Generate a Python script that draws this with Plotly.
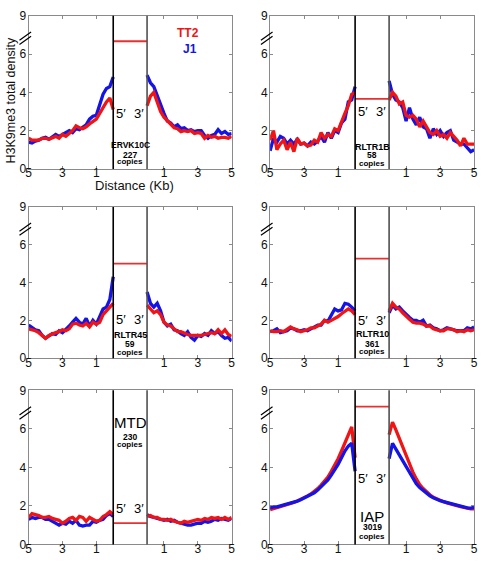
import plotly.graph_objects as go

# ---------------- data ----------------
left_dist = [5.0, 4.8, 4.6, 4.4, 4.2, 4.0, 3.8, 3.6, 3.4, 3.2, 3.0, 2.8, 2.6,
             2.4, 2.2, 2.0, 1.8, 1.6, 1.4, 1.2, 1.0, 0.8, 0.6, 0.4, 0.2, 0.0]
right_dist = [0.0, 0.2, 0.4, 0.6, 0.8, 1.0, 1.2, 1.4, 1.6, 1.8, 2.0, 2.2, 2.4,
              2.6, 2.8, 3.0, 3.2, 3.4, 3.6, 3.8, 4.0, 4.2, 4.4, 4.6, 4.8, 5.0]

x_tick_vals = [0, 2, 4, 8, 10, 12]
x_tick_text = ['5', '3', '1', '1', '3', '5']
y_tick_vals = [0, 2, 4, 6, 8]
y_tick_text = ['0', '2', '4', '6', '9']

elements = ['ERVK10C', 'RLTR1B', 'RLTR45', 'RLTR10', 'MTD', 'IAP']
copies = ['227', '58', '59', '361', '230', '3019']
body_density_tt2 = [6.67, 3.66, 5.0, 5.27, 1.11, 7.15]

ervk_j1_5p = [1.40, 1.35, 1.45, 1.50, 1.60, 1.65, 1.55, 1.70, 1.80, 1.70, 1.80, 1.90, 2.00,
              1.90, 2.10, 2.05, 2.20, 2.30, 2.60, 2.75, 2.80, 3.30, 3.90, 4.20, 4.30, 4.80]
ervk_tt2_5p = [1.60, 1.50, 1.50, 1.50, 1.60, 1.60, 1.55, 1.65, 1.70, 1.60, 1.80, 1.70, 1.85,
               2.00, 2.25, 2.15, 2.10, 2.20, 2.35, 2.50, 2.60, 2.90, 3.20, 3.50, 3.70, 3.10]
ervk_j1_3p = [4.90, 4.50, 4.30, 3.80, 3.30, 2.90, 2.50, 2.40, 2.20, 2.30, 2.10, 2.15, 2.00,
              2.05, 1.95, 2.00, 2.00, 1.75, 1.60, 1.75, 1.80, 2.05, 1.85, 1.95, 1.80, 1.85]
ervk_tt2_3p = [3.30, 3.80, 4.00, 3.50, 3.00, 2.70, 2.50, 2.30, 2.15, 2.10, 1.95, 2.00, 1.95,
               2.00, 1.85, 1.90, 1.85, 1.60, 1.75, 1.65, 1.70, 1.60, 1.65, 1.65, 1.60, 1.70]

rltr1b_j1_5p = [0.95, 1.60, 1.40, 1.70, 1.60, 1.30, 1.50, 1.30, 1.55, 1.30, 1.35, 1.20, 1.40,
                1.30, 1.45, 1.70, 1.40, 1.90, 1.60, 2.00, 1.90, 2.40, 2.60, 3.50, 3.60, 4.30]
rltr1b_tt2_5p = [1.50, 2.00, 1.00, 1.30, 1.50, 1.00, 1.40, 0.90, 1.60, 1.30, 1.35, 1.20, 1.25,
                 1.50, 1.40, 1.90, 1.60, 1.80, 1.70, 2.10, 2.00, 2.50, 2.90, 3.30, 3.90, 4.00]
rltr1b_j1_3p = [4.60, 3.90, 3.60, 3.50, 3.20, 2.50, 3.20, 2.60, 2.30, 2.70, 2.20, 2.10, 1.60,
                2.10, 1.80, 2.00, 1.70, 1.90, 2.00, 1.50, 1.40, 1.30, 1.30, 1.10, 0.90, 1.00]
rltr1b_tt2_3p = [3.60, 4.00, 3.80, 3.40, 3.50, 2.80, 2.70, 2.80, 2.60, 2.20, 2.50, 2.20, 1.90,
                 1.80, 2.00, 1.70, 1.80, 1.60, 1.90, 1.70, 1.50, 1.20, 1.60, 1.30, 1.30, 1.30]

rltr45_j1_5p = [1.75, 1.60, 1.50, 1.45, 1.20, 1.05, 1.15, 1.30, 1.25, 1.45, 1.35, 1.50, 1.70,
                1.90, 2.10, 1.90, 1.80, 2.10, 1.70, 2.00, 1.80, 2.20, 2.60, 2.70, 3.10, 4.30]
rltr45_tt2_5p = [1.55, 1.50, 1.45, 1.35, 1.20, 1.05, 1.20, 1.30, 1.35, 1.40, 1.50, 1.45, 1.55,
                 1.80, 1.85, 1.75, 1.70, 1.85, 1.65, 1.90, 1.80, 1.90, 2.30, 2.50, 2.70, 2.90]
rltr45_j1_3p = [3.50, 2.90, 2.70, 2.90, 2.50, 1.90, 1.70, 1.80, 1.50, 1.45, 1.30, 1.20, 1.40,
                1.10, 0.95, 1.20, 1.15, 1.30, 1.20, 1.45, 1.30, 1.40, 1.20, 1.05, 1.10, 0.90]
rltr45_tt2_3p = [2.80, 2.60, 2.40, 2.50, 2.30, 1.90, 1.75, 1.70, 1.55, 1.40, 1.40, 1.30, 1.25,
                 1.20, 1.20, 1.20, 1.20, 1.25, 1.30, 1.35, 1.30, 1.50, 1.30, 1.50, 1.25, 1.15]

rltr10_j1_5p = [1.40, 1.45, 1.55, 1.35, 1.40, 1.45, 1.60, 1.55, 1.45, 1.45, 1.50, 1.45, 1.55,
                1.65, 1.75, 1.75, 2.00, 1.95, 2.30, 2.60, 2.50, 2.55, 2.90, 2.85, 2.70, 2.50]
rltr10_tt2_5p = [1.45, 1.40, 1.40, 1.45, 1.40, 1.50, 1.65, 1.55, 1.50, 1.40, 1.45, 1.50, 1.60,
                 1.60, 1.70, 1.80, 2.00, 1.90, 2.00, 2.10, 2.20, 2.35, 2.50, 2.60, 2.50, 2.30]
rltr10_j1_3p = [2.40, 2.80, 2.60, 2.70, 2.50, 2.30, 2.15, 2.00, 2.00, 1.90, 2.00, 1.70, 1.75,
                1.60, 1.55, 1.45, 1.50, 1.60, 1.55, 1.50, 1.45, 1.45, 1.45, 1.60, 1.55, 1.65]
rltr10_tt2_3p = [2.50, 2.90, 2.70, 2.60, 2.40, 2.20, 2.05, 1.90, 1.85, 1.85, 1.80, 1.70, 1.70,
                 1.55, 1.50, 1.45, 1.45, 1.55, 1.55, 1.50, 1.40, 1.45, 1.40, 1.50, 1.45, 1.50]

mtd_j1_5p = [1.30, 1.40, 1.35, 1.40, 1.40, 1.30, 1.30, 1.20, 1.10, 1.00, 1.10, 1.05, 1.20,
             1.10, 1.25, 1.00, 0.95, 1.00, 1.00, 1.20, 1.15, 1.25, 1.30, 1.50, 1.60, 1.45]
mtd_tt2_5p = [1.40, 1.60, 1.55, 1.50, 1.40, 1.40, 1.45, 1.35, 1.30, 1.25, 1.10, 1.20, 1.35,
              1.40, 1.25, 1.45, 1.40, 1.20, 1.40, 1.30, 1.20, 1.25, 1.45, 1.55, 1.70, 1.55]
mtd_j1_3p = [1.55, 1.45, 1.40, 1.35, 1.30, 1.25, 1.30, 1.20, 1.25, 1.15, 1.10, 1.05, 1.00,
             1.00, 1.05, 1.10, 1.10, 1.20, 1.15, 1.20, 1.30, 1.25, 1.35, 1.30, 1.25, 1.35]
mtd_tt2_3p = [1.45, 1.50, 1.40, 1.40, 1.30, 1.30, 1.25, 1.30, 1.20, 1.15, 1.10, 1.20, 1.15,
              1.20, 1.25, 1.30, 1.25, 1.35, 1.30, 1.40, 1.35, 1.40, 1.30, 1.40, 1.30, 1.40]

iap_j1_5p = [1.90, 1.95, 1.95, 2.00, 2.05, 2.10, 2.12, 2.18, 2.25, 2.32, 2.40, 2.48, 2.56,
             2.68, 2.82, 2.98, 3.15, 3.35, 3.60, 3.85, 4.15, 4.50, 4.85, 5.10, 5.25, 3.80]
iap_tt2_5p = [1.80, 1.85, 1.90, 1.95, 2.00, 2.08, 2.12, 2.18, 2.25, 2.33, 2.42, 2.52, 2.62,
              2.75, 2.90, 3.08, 3.28, 3.50, 3.80, 4.10, 4.45, 4.85, 5.30, 5.75, 6.10, 4.50]
iap_j1_3p = [4.45, 5.25, 4.95, 4.65, 4.35, 4.00, 3.70, 3.40, 3.15, 2.95, 2.80, 2.65, 2.52,
             2.42, 2.33, 2.27, 2.22, 2.17, 2.12, 2.08, 2.04, 2.00, 1.95, 1.90, 1.88, 1.92]
iap_tt2_3p = [5.70, 6.35, 5.95, 5.50, 5.05, 4.60, 4.15, 3.75, 3.40, 3.10, 2.90, 2.72, 2.58,
              2.45, 2.36, 2.28, 2.22, 2.16, 2.10, 2.05, 2.00, 1.96, 1.92, 1.88, 1.85, 1.85]

panel_series = [
    (ervk_j1_5p, ervk_tt2_5p, ervk_j1_3p, ervk_tt2_3p),
    (rltr1b_j1_5p, rltr1b_tt2_5p, rltr1b_j1_3p, rltr1b_tt2_3p),
    (rltr45_j1_5p, rltr45_tt2_5p, rltr45_j1_3p, rltr45_tt2_3p),
    (rltr10_j1_5p, rltr10_tt2_5p, rltr10_j1_3p, rltr10_tt2_3p),
    (mtd_j1_5p, mtd_tt2_5p, mtd_j1_3p, mtd_tt2_3p),
    (iap_j1_5p, iap_tt2_5p, iap_j1_3p, iap_tt2_3p),
]

# ---------------- layout / styling ----------------
W, H = 486, 568
LEFT_ZERO, RIGHT_ZERO = 5, 7          # element body spans between these axis units
RED = '#f01414'
BLUE = '#1414e6'
FONT = 'Liberation Sans, Arial, sans-serif'

col_dom = [(26 / W, 232 / W), (271 / W, 478 / W)]
row_dom = [(1 - 166 / H, 1 - 9 / H), (1 - 360 / H, 1 - 205 / H), (1 - 551 / H, 1 - 393 / H)]

prime_y = [2.9, 3.0, 2.06, 2.0, 1.85, 3.43]
name_y = [1.27, 1.17, 1.25, 1.28, 6.33, 1.47]
count_y = [0.73, 0.71, 0.77, 0.77, 5.56, 0.89]
copies_y = [0.39, 0.29, 0.31, 0.34, 5.21, 0.43]
name_size = [8.5, 9, 9, 9, 15, 15]
name_bold = [True, True, True, True, False, False]
blue_on_top = [False, False, False, False, False, True]

fig = go.Figure()
layout = dict(width=W, height=H, margin=dict(l=0, r=0, t=0, b=0),
              paper_bgcolor='white', plot_bgcolor='white', showlegend=False)
shapes, annotations = [], []

for i in range(6):
    n = i + 1
    sfx = '' if n == 1 else str(n)
    xa, ya = f'x{sfx}', f'y{sfx}'
    r, c = divmod(i, 2)
    j1_5, tt2_5, j1_3, tt2_3 = panel_series[i]
    xl = [LEFT_ZERO - d for d in left_dist]
    xr = [RIGHT_ZERO + d for d in right_dist]
    blue_tr = [(xl, j1_5), (xr, j1_3)]
    red_tr = [(xl, tt2_5), (xr, tt2_3)]
    order = [(red_tr, RED), (blue_tr, BLUE)] if blue_on_top[i] else [(blue_tr, BLUE), (red_tr, RED)]
    for trs, col in order:
        for xs, ys in trs:
            fig.add_trace(go.Scatter(x=xs, y=ys, mode='lines', xaxis=xa, yaxis=ya,
                                     line=dict(color=col, width=3.3), hoverinfo='skip'))
    fig.add_trace(go.Scatter(x=[LEFT_ZERO, RIGHT_ZERO], y=[body_density_tt2[i]] * 2, mode='lines',
                             xaxis=xa, yaxis=ya, line=dict(color='#e83030', width=1.8),
                             hoverinfo='skip'))

    axcommon = dict(showline=True, linecolor='#8a8a8a', linewidth=1, mirror='ticks',
                    ticks='inside', ticklen=3, tickcolor='#8a8a8a', showgrid=False,
                    zeroline=False, tickfont=dict(family=FONT, size=12, color='#111'),
                    ticklabeloverflow='allow')
    layout[f'xaxis{sfx}'] = dict(domain=list(col_dom[c]), anchor=ya, range=[0, 12],
                                 tickvals=x_tick_vals, ticktext=x_tick_text,
                                 ticklabelstandoff=-7, **axcommon)
    layout[f'yaxis{sfx}'] = dict(domain=list(row_dom[r]), anchor=xa, range=[0, 8],
                                 tickvals=y_tick_vals, ticktext=y_tick_text,
                                 ticklabelstandoff=-1, **axcommon)

    for xv, colr in [(LEFT_ZERO, '#000000'), (RIGHT_ZERO, '#505050')]:
        shapes.append(dict(type='line', xref=xa, yref=f'{ya} domain', x0=xv, x1=xv, y0=0, y1=1,
                           line=dict(color=colr, width=1.6)))
    for off in (0.0, -0.22):
        shapes.append(dict(type='line', xref=f'{xa} domain', yref=ya,
                           x0=-0.045, x1=0.012, y0=6.72 + off, y1=7.15 + off,
                           line=dict(color='#000', width=1.2)))

    annotations.append(dict(x=LEFT_ZERO + 0.45, y=prime_y[i], xref=xa, yref=ya, text='5′',
                            showarrow=False, font=dict(family=FONT, size=13, color='#000')))
    annotations.append(dict(x=LEFT_ZERO + 1.5, y=prime_y[i], xref=xa, yref=ya, text='3′',
                            showarrow=False, font=dict(family=FONT, size=13, color='#000')))
    nm = f'<b>{elements[i]}</b>' if name_bold[i] else elements[i]
    annotations.append(dict(x=6, y=name_y[i], xref=xa, yref=ya, text=nm, showarrow=False,
                            font=dict(family=FONT, size=name_size[i], color='#000')))
    annotations.append(dict(x=6, y=count_y[i], xref=xa, yref=ya, text=f'<b>{copies[i]}</b>',
                            showarrow=False, font=dict(family=FONT, size=8.5, color='#000')))
    annotations.append(dict(x=6, y=copies_y[i], xref=xa, yref=ya, text='<b>copies</b>',
                            showarrow=False, font=dict(family=FONT, size=8, color='#000')))

paper_txt = dict(xref='paper', yref='paper', showarrow=False, xanchor='center', yanchor='middle')
annotations.append(dict(x=188 / W, y=1 - 27 / H, text='<b>TT2</b>',
                        font=dict(family=FONT, size=12, color=RED), **paper_txt))
annotations.append(dict(x=190 / W, y=1 - 43 / H, text='<b>J1</b>',
                        font=dict(family=FONT, size=12, color=BLUE), **paper_txt))
annotations.append(dict(x=8 / W, y=1 - 95 / H, text='H3K9me3 total density', textangle=-90,
                        font=dict(family=FONT, size=12.5, color='#111'), **paper_txt))
annotations.append(dict(x=133 / W, y=1 - 183 / H, text='Distance (Kb)',
                        font=dict(family=FONT, size=13, color='#111'), **paper_txt))

layout['shapes'] = shapes
layout['annotations'] = annotations
fig.update_layout(**layout)
fig.write_html('out.html', config={'displayModeBar': False},
               post_script="document.body.style.margin='0';document.body.style.padding='0';"
                           "document.body.style.overflow='hidden';")
